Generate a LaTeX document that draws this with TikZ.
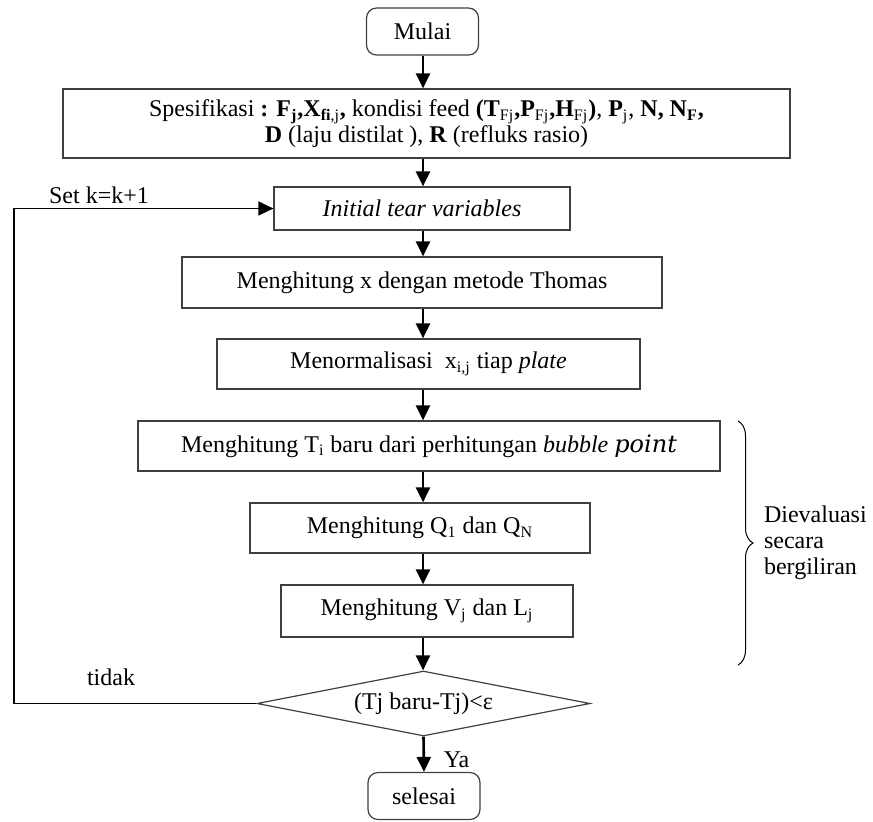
\documentclass[tikz,border=0pt]{standalone}
\usepackage{fontspec}
\setmainfont{Liberation Serif}
\newfontfamily\pointfont{DejaVu Serif}
\usetikzlibrary{shapes.geometric,arrows.meta,decorations.pathreplacing}

\begin{document}
\begin{tikzpicture}[x=0.5pt,y=-0.5pt,font=\fontsize{12}{13}\selectfont,
   box/.style={draw=black!75,line width=0.6pt,inner sep=0pt,align=center},
   rbox/.style={box,rounded corners=5pt,minimum width=56pt,minimum height=23.5pt},
   arr/.style={line width=1.3pt,-{Triangle[width=7pt,length=7.5pt]}},
   back/.style={line width=0.7pt,-{Triangle[width=7pt,length=7.5pt]}}]
   \useasboundingbox (0,0) rectangle (873,821);
   \node[rbox] (mulai) at (422.5,31.5) {Mulai};
   \node[box,minimum width=363.5pt,minimum height=34.5pt] (spec) at (426.5,123.5)
    {Spesifikasi \textbf{: F\textsubscript{j},X}\textsubscript{\textbf{fi},j}\textbf{,} kondisi feed
     \textbf{(T}\textsubscript{Fj}\textbf{,P}\textsubscript{Fj}\textbf{,H}\textsubscript{Fj}\textbf{)},
     \textbf{P}\textsubscript{j}, \textbf{N, N\textsubscript{F},}\\
     \textbf{D} (laju distilat ), \textbf{R} (refluks rasio)};
   \node[box,minimum width=148pt,minimum height=21.5pt] (init) at (422,208.5) {\textit{Initial tear variables}};
   \node[box,minimum width=240pt,minimum height=25.5pt] (hitx) at (422,282.5) {Menghitung x dengan metode Thomas};
   \node[box,minimum width=211.5pt,minimum height=25pt] (norm) at (428.5,364) {Menormalisasi\ \ x\textsubscript{i,j} tiap \textit{plate}};
   \node[box,minimum width=291pt,minimum height=25pt] (hitt) at (429,446)
    {Menghitung T\textsubscript{i} baru dari perhitungan \textit{bubble} {\pointfont\itshape point}};
   \node[box,minimum width=170pt,minimum height=25pt] (hitq) at (420,528) {Menghitung Q\textsubscript{1} dan Q\textsubscript{N}};
   \node[box,minimum width=146pt,minimum height=26pt] (hitv) at (427,611) {Menghitung V\textsubscript{j} dan L\textsubscript{j}};
   \node[box,diamond,aspect=5,minimum width=166.5pt,minimum height=32.5pt] (cek) at (423.5,703.5) {(Tj baru-Tj)<ε};
   \node[rbox] (selesai) at (424,796) {selesai};
   % alur utama
   \coordinate (axis) at (423,0);
   \foreach \a/\b in {mulai/spec,spec/init,init/hitx,hitx/norm,norm/hitt,hitt/hitq,hitq/hitv,hitv/cek}
     \draw[arr] (axis |- \a.south) -- (axis |- \b.north);
   \draw[arr] (cek.south) -- (selesai.north) node[pos=0.65,right=6pt] (ya) {Ya};
   % iterasi
   \coordinate (kiri) at (14,0);
   \draw[back] (cek.west) -- (kiri |- cek.west) -- (kiri |- init.west) -- (init.west);
   \node (setk) at (99,195) {Set k=k+1};
   \node (tidak) at (111,677) {tidak};
   \draw[line width=0.5pt,decorate,decoration={brace,amplitude=7.5pt}] (738,421) -- (738,665);
   \node[anchor=west,align=left] (eval) at (757,543) {Dievaluasi\\secara\\bergiliran};
 \end{tikzpicture}
\end{document}
